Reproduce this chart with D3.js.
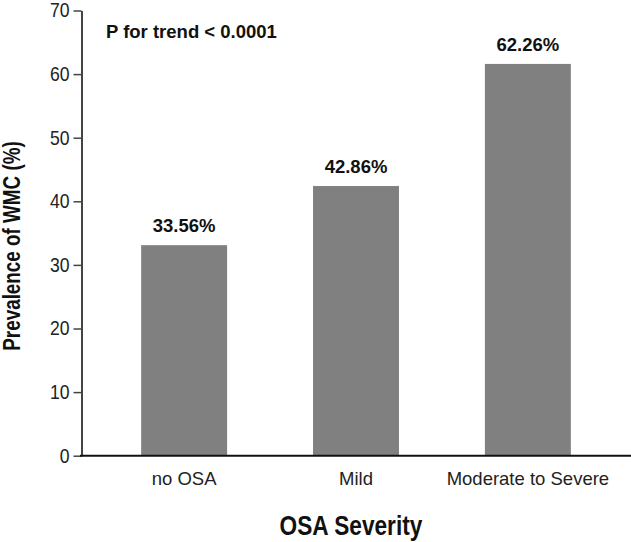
<!DOCTYPE html>
<html><head><meta charset="utf-8">
<script src="https://cdn.jsdelivr.net/npm/d3@7"></script>
<style>body{margin:0;background:#fff}svg{display:block}</style>
</head><body>
<script>
const categories = ["no OSA", "Mild", "Moderate to Severe"];
const values = [33.1, 42.4, 61.6];
const valueLabels = ["33.56%", "42.86%", "62.26%"];
const yTicks = [0, 10, 20, 30, 40, 50, 60, 70];
const trendText = "P for trend < 0.0001";

const W = 631, H = 542;
const svg = d3.select("body").append("svg").attr("width", W).attr("height", H);
const font = "'Liberation Sans', Arial, sans-serif";

const x = d3.scaleBand().domain(categories).range([81, 631]).paddingInner(0.5).paddingOuter(0.35);
const y = d3.scaleLinear().domain([0, 70]).range([455.7, 10.5]);

svg.selectAll("rect.bar").data(values).join("rect")
  .attr("class", "bar")
  .attr("x", (d, i) => x(categories[i]))
  .attr("width", x.bandwidth())
  .attr("y", d => y(d))
  .attr("height", d => y(0) - y(d))
  .attr("fill", "#808080");

const ya = svg.append("g").attr("transform", "translate(81.5,0)")
  .call(d3.axisLeft(y).tickValues(yTicks).tickSize(8).tickPadding(4).tickSizeOuter(0));
ya.select(".domain").attr("stroke", "#444").attr("stroke-width", 2);
ya.selectAll(".tick line").attr("stroke", "#444").attr("stroke-width", 1.5);
ya.selectAll(".tick text").attr("font-family", font).attr("font-size", 20).attr("fill", "#222")
  .attr("transform", "scale(0.88,1)").attr("x", -12 / 0.88);

const xa = svg.append("g").attr("transform", `translate(0,${y(0)})`)
  .call(d3.axisBottom(x).tickSize(0).tickPadding(16));
xa.select(".domain").attr("stroke", "#111").attr("stroke-width", 2).attr("d", "M80,0H631");
xa.selectAll(".tick text").attr("font-family", font).attr("font-size", 18.5).attr("fill", "#222");

svg.selectAll("text.vl").data(values).join("text")
  .attr("class", "vl")
  .attr("x", (d, i) => x(categories[i]) + x.bandwidth() / 2)
  .attr("y", d => y(d) - 13)
  .attr("text-anchor", "middle")
  .attr("font-family", font).attr("font-weight", "bold").attr("font-size", 18.5)
  .attr("fill", "#111")
  .text((d, i) => valueLabels[i]);

svg.append("text").attr("x", 106).attr("y", 38).attr("font-family", font)
  .attr("font-weight", "bold").attr("font-size", 18.5).attr("fill", "#111").text(trendText);

svg.append("text").attr("transform", "translate(20,246) rotate(-90) scale(0.82,1)")
  .attr("text-anchor", "middle").attr("font-family", font).attr("font-weight", "bold")
  .attr("font-size", 23).attr("fill", "#111").text("Prevalence of WMC (%)");

svg.append("text").attr("transform", "translate(351,535) scale(0.84,1)").attr("text-anchor", "middle")
  .attr("font-family", font).attr("font-weight", "bold").attr("font-size", 27)
  .attr("fill", "#111").text("OSA Severity");
</script>
</body></html>
